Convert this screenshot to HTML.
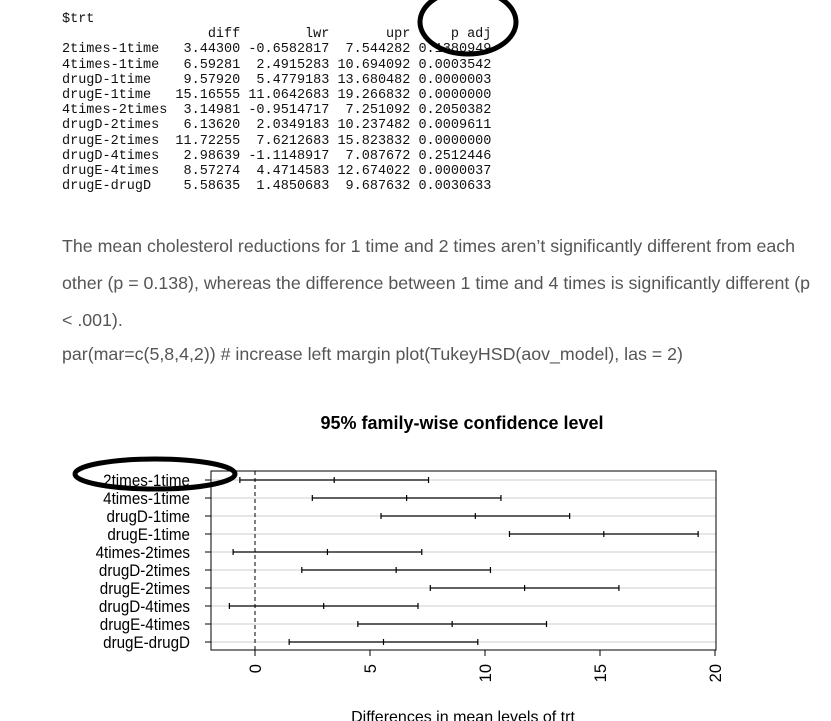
<!DOCTYPE html>
<html><head><meta charset="utf-8"><style>
body{margin:0;width:831px;height:721px;background:#fff;overflow:hidden;position:relative;font-family:"Liberation Sans",sans-serif}
pre{position:absolute;left:62px;top:12px;margin:0;font-family:"Liberation Mono",monospace;font-size:13.5px;line-height:15.2px;color:#111}
.p{position:absolute;left:62px;font-size:17.8px;color:#555;white-space:nowrap}
</style></head><body>
<pre>$trt
                  diff        lwr       upr     p adj
2times-1time   3.44300 -0.6582817  7.544282 0.1380949
4times-1time   6.59281  2.4915283 10.694092 0.0003542
drugD-1time    9.57920  5.4779183 13.680482 0.0000003
drugE-1time   15.16555 11.0642683 19.266832 0.0000000
4times-2times  3.14981 -0.9514717  7.251092 0.2050382
drugD-2times   6.13620  2.0349183 10.237482 0.0009611
drugE-2times  11.72255  7.6212683 15.823832 0.0000000
drugD-4times   2.98639 -1.1148917  7.087672 0.2512446
drugE-4times   8.57274  4.4714583 12.674022 0.0000037
drugE-drugD    5.58635  1.4850683  9.687632 0.0030633</pre>
<div class="p" style="top:236px">The mean cholesterol reductions for 1 time and 2 times aren’t significantly different from each</div>
<div class="p" style="top:273px">other (p = 0.138), whereas the difference between 1 time and 4 times is significantly different (p</div>
<div class="p" style="top:310px">&lt; .001).</div>
<div class="p" style="top:344px">par(mar=c(5,8,4,2)) # increase left margin plot(TukeyHSD(aov_model), las = 2)</div>
<svg id="chart" width="831" height="721" style="position:absolute;left:0;top:0">
<ellipse cx="468" cy="22" rx="48" ry="32" fill="none" stroke="#000" stroke-width="5"/>
</svg>
<script>
const cats=["2times-1time","4times-1time","drugD-1time","drugE-1time","4times-2times","drugD-2times","drugE-2times","drugD-4times","drugE-4times","drugE-drugD"];
const diffs=[3.44300,6.59281,9.57920,15.16555,3.14981,6.13620,11.72255,2.98639,8.57274,5.58635];
const lwrs=[-0.6582817,2.4915283,5.4779183,11.0642683,-0.9514717,2.0349183,7.6212683,-1.1148917,4.4714583,1.4850683];
const uprs=[7.544282,10.694092,13.680482,19.266832,7.251092,10.237482,15.823832,7.087672,12.674022,9.687632];
const ticks=[0,5,10,15,20];
const svg=document.getElementById('chart');const NS='http://www.w3.org/2000/svg';
const X=v=>255+v*23;const Y=i=>480+i*18;
function mk(t,a,p){const e=document.createElementNS(NS,t);for(const k in a)e.setAttribute(k,a[k]);(p||svg).appendChild(e);return e;}
let e;
e=mk('text',{x:462,y:429,'text-anchor':'middle','font-size':18,'font-weight':'bold','font-family':'Liberation Sans,sans-serif'});e.textContent='95% family-wise confidence level';


cats.forEach((c,i)=>{
 e=mk('line',{x1:211,x2:716,y1:Y(i),y2:Y(i),stroke:'#ccc','stroke-width':1});
 
 
 e=mk('line',{x1:205,x2:211,y1:Y(i),y2:Y(i),stroke:'#000'});
 
 
 e=mk('text',{x:190,y:Y(i)+6,'text-anchor':'end','font-size':16.5,'font-family':'Liberation Sans,sans-serif',transform:`translate(${190*0.08},0) scale(0.92,1)`});
 e.textContent=c;
 
 
 const g=mk('g',{stroke:'#000','stroke-width':1.2});
 
 
 mk('line',{x1:X(lwrs[i]),x2:X(uprs[i]),y1:Y(i),y2:Y(i)},g);
 [lwrs[i],diffs[i],uprs[i]].forEach(v=>mk('line',{x1:X(v),x2:X(v),y1:Y(i)-3,y2:Y(i)+3},g));
});
e=mk('line',{x1:X(0),x2:X(0),y1:471,y2:650,stroke:'#000','stroke-dasharray':'4,3'});


e=mk('rect',{x:211,y:471,width:505,height:179,fill:'none',stroke:'#000'});


ticks.forEach(t=>{
 e=mk('line',{x1:X(t),x2:X(t),y1:650,y2:656,stroke:'#000'});
 
 
 e=mk('text',{x:0,y:0,'text-anchor':'end','font-size':16.5,'font-family':'Liberation Sans,sans-serif',transform:`translate(${X(t)+6},664) rotate(-90)`});
 e.textContent=t;
 
 
});
e=mk('text',{x:463,y:722,'text-anchor':'middle','font-size':16,'font-family':'Liberation Sans,sans-serif'});e.textContent='Differences in mean levels of trt';


e=mk('ellipse',{cx:155,cy:474,rx:80,ry:15,fill:'none',stroke:'#000','stroke-width':5});


</script>
</body></html>
